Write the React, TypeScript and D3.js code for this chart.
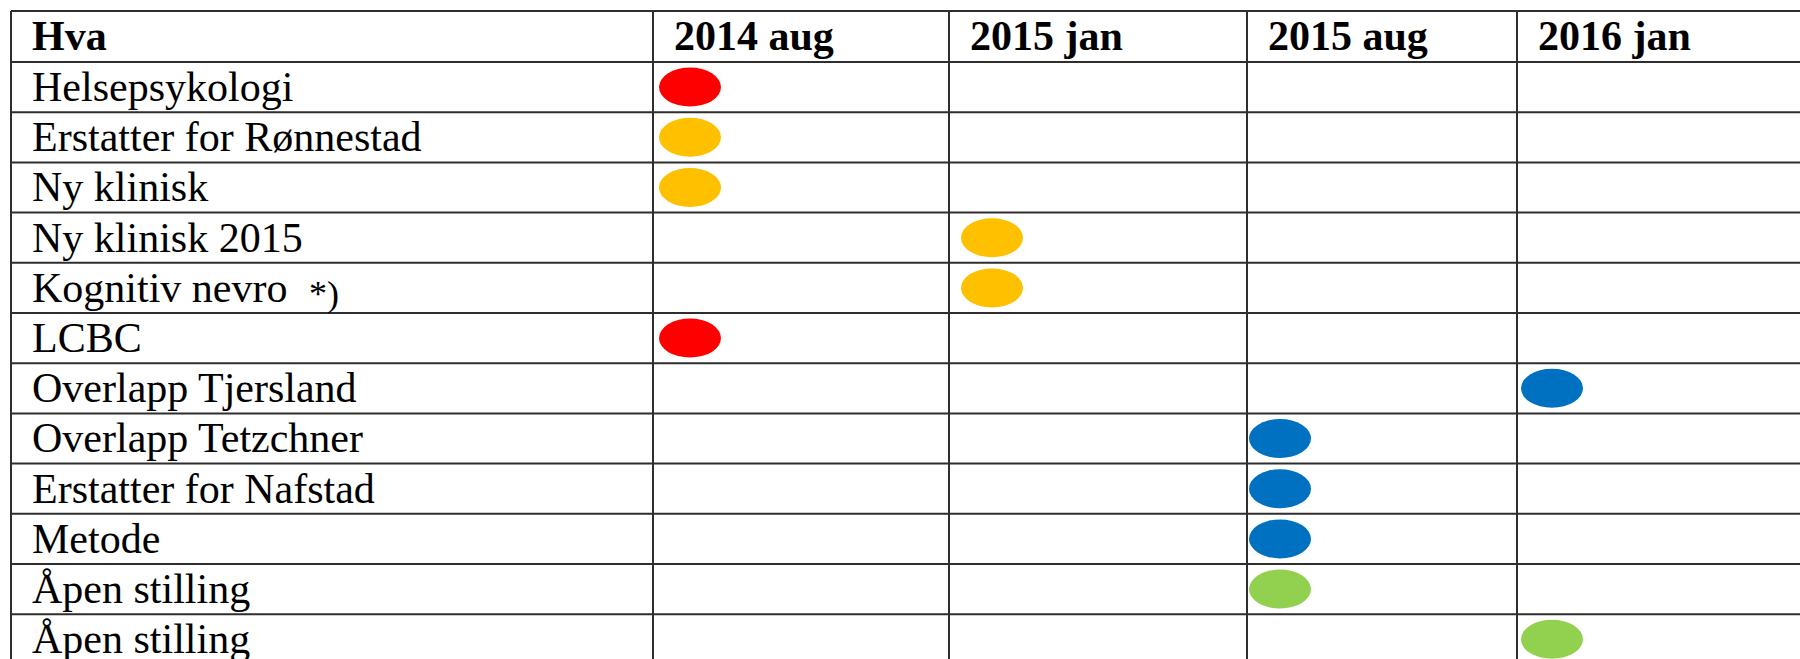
import * as d3 from 'd3'
import React from 'react'

const rowLabels = [
  'Helsepsykologi',
  'Erstatter for Rønnestad',
  'Ny klinisk',
  'Ny klinisk 2015',
  'Kognitiv nevro',
  'LCBC',
  'Overlapp Tjersland',
  'Overlapp Tetzchner',
  'Erstatter for Nafstad',
  'Metode',
  'Åpen stilling',
  'Åpen stilling',
]
const rowNotes = ['', '', '', '', '*)', '', '', '', '', '', '', '']
const periods = ['2014 aug', '2015 jan', '2015 aug', '2016 jan']
const dotPeriod = [
  '2014 aug', '2014 aug', '2014 aug', '2015 jan', '2015 jan', '2014 aug',
  '2016 jan', '2015 aug', '2015 aug', '2015 aug', '2015 aug', '2016 jan',
]
const dotStatus = [
  'red', 'amber', 'amber', 'amber', 'amber', 'red',
  'blue', 'blue', 'blue', 'blue', 'green', 'green',
]
const statusNames = ['red', 'amber', 'blue', 'green']

const W = 1800
const H = 659
const left = 11
const top = 11
const headerBottom = 62
const rowH = 50.2
const colLefts = [653, 949, 1247, 1517]
// dots are hand placed in each column, not quite at the same inset
const dotInsets = [37, 43, 33, 35]
const lineColor = '#2e2e2e'
const serif = '"Liberation Serif", "Times New Roman", serif'

export default function App() {
  const x = d3.scaleOrdinal<string, number>().domain(periods).range(colLefts)
  const dotX = d3.scaleOrdinal<string, number>().domain(periods).range(colLefts.map((c, i) => c + dotInsets[i]))
  const y = d3
    .scaleBand<number>()
    .domain(d3.range(rowLabels.length))
    .range([headerBottom, headerBottom + rowH * rowLabels.length])
  const color = d3
    .scaleOrdinal<string, string>()
    .domain(statusNames)
    .range(['#ff0000', '#ffc000', '#0070c0', '#92d050'])

  return (
    <svg
      width={W}
      height={H}
      style={{ position: 'absolute', left: 0, top: 0, background: '#fff' }}
      fontFamily={serif}
    >
      <rect width={W} height={H} fill="#fff" />

      {/* dots */}
      {rowLabels.map((_, i) => (
        <ellipse
          key={'d' + i}
          cx={dotX(dotPeriod[i])}
          cy={(y(i) as number) + rowH / 2}
          rx={31}
          ry={19.5}
          fill={color(dotStatus[i])}
        />
      ))}

      {/* grid */}
      <g stroke={lineColor} strokeWidth={2}>
        <line x1={left} x2={W} y1={top} y2={top} />
        <line x1={left} x2={W} y1={headerBottom} y2={headerBottom} />
        {rowLabels.map((_, i) => {
          const yy = (y(i) as number) + rowH
          return <line key={'h' + i} x1={left} x2={W} y1={yy} y2={yy} />
        })}
        <line x1={left} x2={left} y1={top} y2={H} />
        {periods.map(p => (
          <line key={'v' + p} x1={x(p)} x2={x(p)} y1={top} y2={H} />
        ))}
      </g>

      {/* header */}
      <g fontWeight="bold" fontSize={42} fill="#000">
        <text x={32} y={50}>Hva</text>
        {periods.map(p => (
          <text key={'t' + p} x={x(p) + 21} y={50}>{p}</text>
        ))}
      </g>

      {/* row labels */}
      <g fontSize={42} fill="#000">
        {rowLabels.map((label, i) => (
          <text key={'l' + i} x={32} y={(y(i) as number) + 39}>
            {label}
            {rowNotes[i] ? (
              <tspan x={309} dy={4} fontSize={36}>{rowNotes[i]}</tspan>
            ) : null}
          </text>
        ))}
      </g>
    </svg>
  )
}
